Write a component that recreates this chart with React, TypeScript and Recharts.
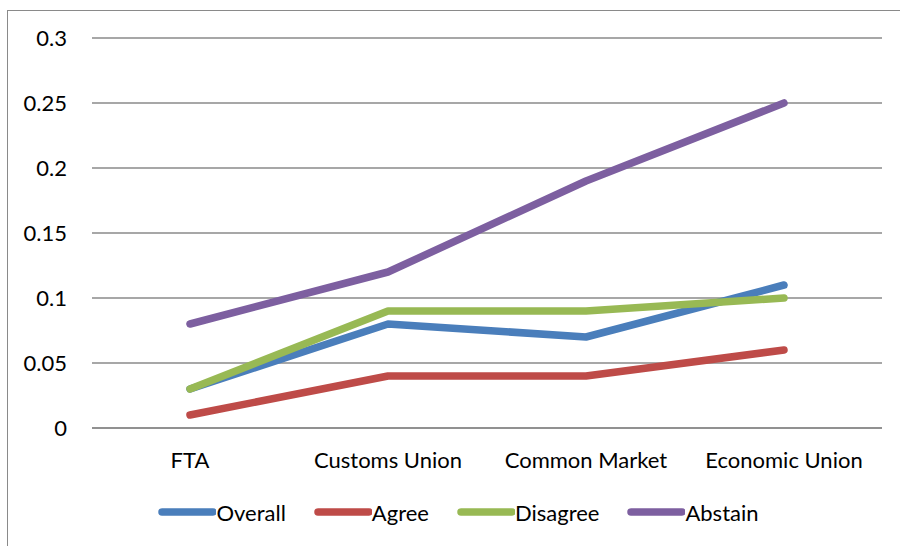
import React from 'react';
import { LineChart, Line, XAxis, YAxis, CartesianGrid, Legend } from 'recharts';

const categories = ['FTA', 'Customs Union', 'Common Market', 'Economic Union'];
const overall = [0.03, 0.08, 0.07, 0.11];
const agree = [0.01, 0.04, 0.04, 0.06];
const disagree = [0.03, 0.09, 0.09, 0.1];
const abstain = [0.08, 0.12, 0.19, 0.25];
const yTicks = [0, 0.05, 0.1, 0.15, 0.2, 0.25, 0.3];

const SERIES = [
  { key: 'Overall', color: '#4A7EBB' },
  { key: 'Agree', color: '#BE4B48' },
  { key: 'Disagree', color: '#98B954' },
  { key: 'Abstain', color: '#7D5FA0' },
];

const data = categories.map((name, i) => ({
  name,
  Overall: overall[i],
  Agree: agree[i],
  Disagree: disagree[i],
  Abstain: abstain[i],
}));

const FONT = 'Lato, "Open Sans", sans-serif';

const LegendRow = () => (
  <div style={{ display: 'flex', justifyContent: 'center', alignItems: 'center', gap: 28, fontFamily: FONT, fontSize: 22, color: '#000', paddingLeft: 17, height: 30 }}>
    {SERIES.map(s => (
      <div key={s.key} style={{ display: 'flex', alignItems: 'center' }}>
        <svg width={58} height={12}>
          <line x1={4} y1={6} x2={55} y2={6} stroke={s.color} strokeWidth={7.5} strokeLinecap="round" />
        </svg>
        <span>{s.key}</span>
      </div>
    ))}
  </div>
);

export default function App() {
  return (
    <div style={{ position: 'absolute', left: 0, top: 0, width: 900, height: 546, overflow: 'hidden', background: '#fff' }}>
      <div style={{ position: 'absolute', left: 7, top: 10, width: 920, height: 560, borderLeft: '1.5px solid #8a8a8a', borderTop: '1.5px solid #8a8a8a' }} />
      <LineChart width={900} height={546} data={data} margin={{ top: 38, right: 18, left: 32, bottom: 58 }}>
        <CartesianGrid vertical={false} stroke="#8a8a8a" strokeWidth={1.5} />
        <XAxis
          dataKey="name"
          padding={{ left: 98, right: 98 }}
          axisLine={{ stroke: '#8a8a8a', strokeWidth: 1.5 }}
          tickLine={false}
          tickSize={0}
          tickMargin={24}
          interval={0}
          tick={{ fill: '#000', fontSize: 22, fontFamily: FONT }}
        />
        <YAxis
          width={60}
          domain={[0, 0.3]}
          ticks={yTicks}
          axisLine={false}
          tickLine={false}
          tickSize={0}
          tickMargin={25}
          tick={{ fill: '#000', fontSize: 22, fontFamily: FONT }}
        />
        <Legend
          verticalAlign="bottom"
          content={() => <LegendRow />}
          wrapperStyle={{ top: 497, bottom: 'auto', left: 0, width: 900, height: 30 }}
        />
        {SERIES.map(s => (
          <Line
            key={s.key}
            type="linear"
            dataKey={s.key}
            stroke={s.color}
            strokeWidth={7.5}
            strokeLinecap="round"
            strokeLinejoin="round"
            dot={false}
            activeDot={false}
            isAnimationActive={false}
          />
        ))}
      </LineChart>
    </div>
  );
}
